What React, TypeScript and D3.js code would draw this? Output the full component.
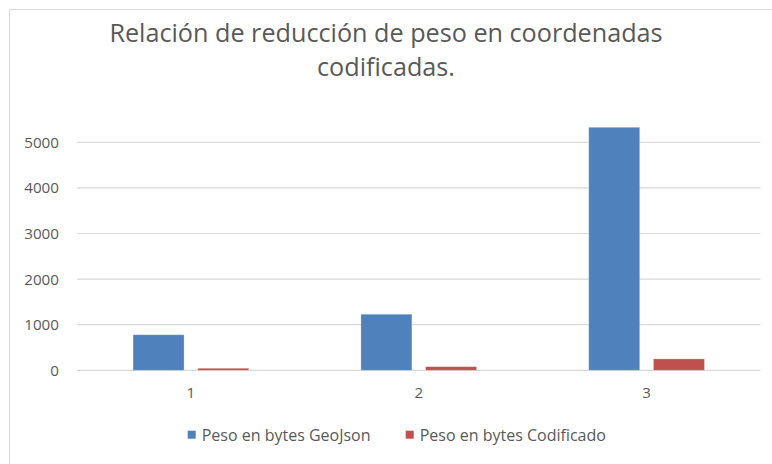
import { useEffect } from "react"
import * as d3 from "d3"

const categories = ["1", "2", "3"]
const seriesNames = ["Peso en bytes GeoJson", "Peso en bytes Codificado"]
const geojsonBytes = [780, 1230, 5330]
const codificadoBytes = [45, 80, 250]
const yTicks = [0, 1000, 2000, 3000, 4000, 5000]
const titleLines = ["Relación de reducción de peso en coordenadas", "codificadas."]

const W = 772
const H = 464
const colors = ["#4f81bd", "#c0504d"]
const textColor = "#595959"
const font = "'Open Sans', 'Liberation Sans', sans-serif"

export default function App() {
  useEffect(() => {
    document.body.style.margin = "0"
  }, [])

  // plot area
  const left = 77
  const right = 760.5
  const y0 = 370.3
  const y5000 = 142.3

  const x = d3.scaleBand<string>().domain(categories).range([left, right]).paddingInner(0).paddingOuter(0)
  const y = d3.scaleLinear().domain([0, 5000]).range([y0, y5000])

  // two bars per group, Excel-like gap width
  const barW = 51
  const innerGap = 13.7
  const groupW = barW * 2 + innerGap
  const sub = d3.scaleOrdinal<number, number>().domain([0, 1]).range([0, barW + innerGap])

  const series = [geojsonBytes, codificadoBytes]

  return (
    <svg width={W} height={H} style={{ position: "absolute", left: 0, top: 0, display: "block" }}>
      <rect x={0} y={0} width={W} height={H} fill="#ffffff" />
      <rect x={9.5} y={9.5} width={W + 20} height={H + 20} fill="none" stroke="#d9d9d9" strokeWidth={1} />

      {/* title */}
      {titleLines.map((t, i) => (
        <text
          key={t}
          x={386}
          y={42 + i * 34}
          textAnchor="middle"
          fontFamily={font}
          fontSize={25.2}
          fill={textColor}
        >
          {t}
        </text>
      ))}

      {/* gridlines */}
      {yTicks.map((t) => (
        <g key={t}>
          <line x1={left} x2={right} y1={y(t)} y2={y(t)} stroke="#d9d9d9" strokeWidth={1.2} />
          <text
            x={59}
            y={y(t)}
            dy="0.36em"
            textAnchor="end"
            fontFamily={font}
            fontSize={15.2}
            fill={textColor}
          >
            {t}
          </text>
        </g>
      ))}

      {/* bars */}
      {series.map((vals, s) =>
        vals.map((v, i) => {
          const cx = (x(categories[i]) ?? 0) + x.bandwidth() / 2
          const bx = cx - groupW / 2 + sub(s)
          return (
            <rect
              key={`${s}-${i}`}
              x={bx}
              y={y(v)}
              width={barW}
              height={y0 - y(v)}
              fill={colors[s]}
              stroke="#ffffff"
              strokeOpacity={0.35}
              strokeWidth={0.8}
            />
          )
        })
      )}

      {/* category labels */}
      {categories.map((c) => (
        <text
          key={c}
          x={(x(c) ?? 0) + x.bandwidth() / 2}
          y={393}
          dy="0.36em"
          textAnchor="middle"
          fontFamily={font}
          fontSize={15.2}
          fill={textColor}
        >
          {c}
        </text>
      ))}

      {/* legend */}
      {seriesNames.map((name, i) => {
        const lx = [187.7, 405.7][i]
        return (
          <g key={name}>
            <rect x={lx} y={430.7} width={8} height={8} fill={colors[i]} />
            <text x={lx + 14} y={435} dy="0.36em" fontFamily={font} fontSize={16} fill={textColor}>
              {name}
            </text>
          </g>
        )
      })}
    </svg>
  )
}
